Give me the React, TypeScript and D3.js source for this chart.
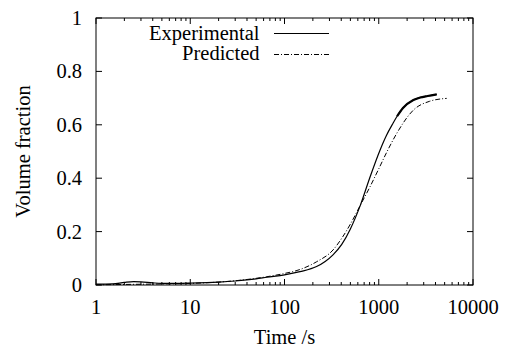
import React from 'react';
import * as d3 from 'd3';

const expTime = [1, 1.5, 2, 2.5, 3, 4, 5, 7, 10, 15, 20, 30, 50, 65, 100, 146, 219, 270, 327, 405, 500, 640, 800, 1031, 1206, 1413, 1565, 1808, 2330, 2740, 3300, 4120];
const expFrac = [0.003, 0.004, 0.01, 0.013, 0.012, 0.008, 0.006, 0.006, 0.007, 0.009, 0.011, 0.015, 0.023, 0.029, 0.038, 0.05, 0.069, 0.088, 0.113, 0.152, 0.21, 0.30, 0.40, 0.505, 0.56, 0.605, 0.632, 0.663, 0.693, 0.702, 0.708, 0.714];

const predTime = [1, 2, 5, 10, 20, 30, 65, 96, 146, 219, 327, 405, 500, 640, 800, 1000, 1206, 1565, 2330, 3460, 5260];
const predFrac = [0.001, 0.002, 0.004, 0.006, 0.011, 0.016, 0.031, 0.042, 0.058, 0.087, 0.131, 0.175, 0.228, 0.30, 0.365, 0.435, 0.495, 0.57, 0.655, 0.688, 0.699];

const xTicks = [1, 10, 100, 1000, 10000];
const yTicks = [0, 0.2, 0.4, 0.6, 0.8, 1];
const legendLabels = ['Experimental', 'Predicted'];

const W = 508, H = 352;
const L = 96, R = 473, T = 18, B = 285;
const FONT = "'Liberation Serif', 'Times New Roman', serif";

export default function App() {
  const x = d3.scaleLog().domain([1, 10000]).range([L, R]);
  const y = d3.scaleLinear().domain([0, 1]).range([B, T]);

  const exp = expTime.map((t, i) => [t, expFrac[i]] as [number, number]);
  const pred = predTime.map((t, i) => [t, predFrac[i]] as [number, number]);
  const line = d3.line<[number, number]>()
    .x(d => x(d[0]))
    .y(d => y(d[1]))
    .curve(d3.curveMonotoneX);
  const expTop = exp.filter(d => d[0] >= 1565);

  const minor: number[] = [];
  for (let p = 0; p < 4; p++) {
    for (let m = 2; m <= 9; m++) minor.push(m * Math.pow(10, p));
  }

  const ts = { fontFamily: FONT, fontSize: '20.5px' };

  return (
    <svg width={W} height={H} style={{ position: 'absolute', left: 0, top: 0, background: '#fff' }}>
      <rect x={0} y={0} width={W} height={H} fill="#fff" />
      <rect x={L} y={T} width={R - L} height={B - T} fill="none" stroke="#000" strokeWidth={1} />
      {xTicks.map(t => (
        <g key={'x' + t}>
          <line x1={x(t)} x2={x(t)} y1={B} y2={B - 6} stroke="#000" />
          <line x1={x(t)} x2={x(t)} y1={T} y2={T + 6} stroke="#000" />
          <text x={x(t)} y={314} textAnchor="middle" style={ts}>{t}</text>
        </g>
      ))}
      {minor.map(t => (
        <g key={'m' + t}>
          <line x1={x(t)} x2={x(t)} y1={B} y2={B - 3} stroke="#000" />
          <line x1={x(t)} x2={x(t)} y1={T} y2={T + 3} stroke="#000" />
        </g>
      ))}
      {yTicks.map(v => (
        <g key={'y' + v}>
          <line x1={L} x2={L + 6} y1={y(v)} y2={y(v)} stroke="#000" />
          <line x1={R} x2={R - 6} y1={y(v)} y2={y(v)} stroke="#000" />
          <text x={82} y={y(v) + 7} textAnchor="end" style={ts}>{v}</text>
        </g>
      ))}
      <text x={(L + R) / 2} y={344} textAnchor="middle" style={ts}>Time /s</text>
      <text transform={`translate(30,${(T + B) / 2}) rotate(-90)`} textAnchor="middle" style={ts}>Volume fraction</text>
      <path d={line(exp) || ''} fill="none" stroke="#000" strokeWidth={1.2} />
      <path d={line(expTop) || ''} fill="none" stroke="#000" strokeWidth={2.2} />
      <path d={line(pred) || ''} fill="none" stroke="#000" strokeWidth={1} strokeDasharray="5,2,1,2" />
      <text x={259.5} y={39.5} textAnchor="end" style={ts}>{legendLabels[0]}</text>
      <line x1={274} x2={329} y1={33.5} y2={33.5} stroke="#000" strokeWidth={1} />
      <text x={259.5} y={59.5} textAnchor="end" style={ts}>{legendLabels[1]}</text>
      <line x1={274} x2={329} y1={54.5} y2={54.5} stroke="#000" strokeWidth={1} strokeDasharray="5,2,1,2" />
    </svg>
  );
}
